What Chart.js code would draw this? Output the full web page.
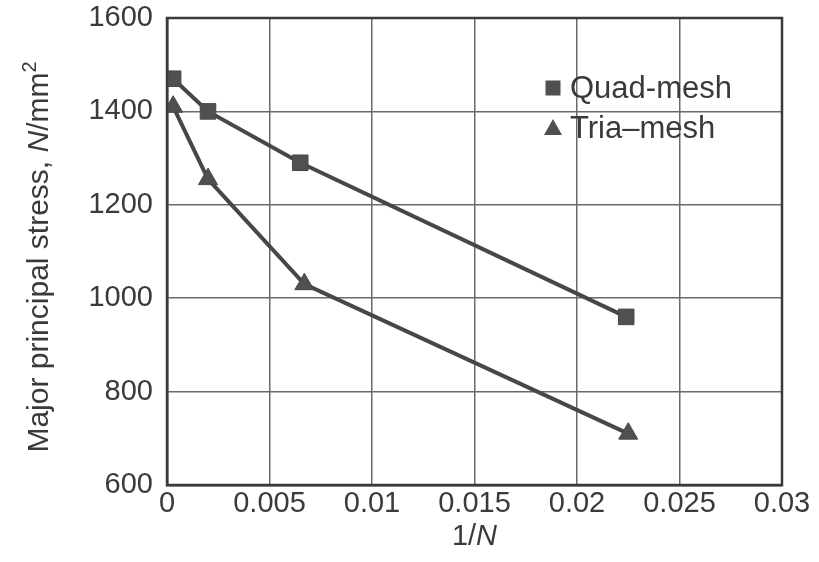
<!DOCTYPE html>
<html>
<head>
<meta charset="utf-8">
<script src="https://cdn.jsdelivr.net/npm/chart.js@4.4.1/dist/chart.umd.min.js"></script>
<style>
  html, body { margin: 0; padding: 0; background: #fff; }
  #wrap { width: 819px; height: 562px; }
</style>
</head>
<body>
<div id="wrap"><canvas id="stress-chart" width="819" height="562"></canvas></div>
<script>
// data
var quad_x = [0.0003, 0.002, 0.0065, 0.0224];
var quad_y = [1470, 1400, 1290, 960];
var tria_x = [0.0003, 0.002, 0.0067, 0.0225];
var tria_y = [1410, 1255, 1030, 710];
var x_ticks = [0, 0.005, 0.01, 0.015, 0.02, 0.025, 0.03];
var x_tick_labels = ['0', '0.005', '0.01', '0.015', '0.02', '0.025', '0.03'];
var y_tick_labels = ['600', '800', '1000', '1200', '1400', '1600'];
var series_names = ['Quad-mesh', 'Tria\u2013mesh'];

var INK = '#3a3a3a';
var FONT = '"Liberation Sans", Arial, Helvetica, sans-serif';

function toPoints(xs, ys) {
    var pts = [];
    for (var i = 0; i < xs.length; i++) {
        pts.push({ x: xs[i], y: ys[i] });
    }
    return pts;
}

// draw a run of text pieces with their own styles, centred on (0,0)
function drawRun(ctx, parts) {
    var total = 0;
    parts.forEach(function (p) {
        ctx.font = p.font;
        p.w = ctx.measureText(p.text).width;
        total += p.w;
    });
    var x = -total / 2;
    parts.forEach(function (p) {
        ctx.font = p.font;
        ctx.fillText(p.text, x, p.dy || 0);
        x += p.w;
    });
}

var framePlugin = {
    id: 'frame',
    afterDraw: function (chart) {
        var ctx = chart.ctx;
        var a = chart.chartArea;
        ctx.save();
        ctx.strokeStyle = INK;
        ctx.lineWidth = 2.5;
        ctx.strokeRect(a.left, a.top, a.right - a.left, a.bottom - a.top);

        // axis titles
        ctx.fillStyle = INK;
        ctx.textBaseline = 'middle';
        ctx.textAlign = 'left';
        ctx.save();
        ctx.translate(40, 257);
        ctx.rotate(-Math.PI / 2);
        drawRun(ctx, [
            { text: 'Major principal stress, ', font: '30px ' + FONT },
            { text: 'N', font: 'italic 30px ' + FONT },
            { text: '/mm', font: '30px ' + FONT },
            { text: '2', font: '20px ' + FONT, dy: -10 }
        ]);
        ctx.restore();

        ctx.save();
        ctx.translate((a.left + a.right) / 2, 537);
        drawRun(ctx, [
            { text: '1/', font: '29px ' + FONT },
            { text: 'N', font: 'italic 29px ' + FONT }
        ]);
        ctx.restore();

        // legend inside the plot
        var lx = 553, ly = [88, 128];
        ctx.fillStyle = '#505050';
        ctx.fillRect(lx - 7.5, ly[0] - 7.5, 15, 15);
        ctx.beginPath();
        ctx.moveTo(lx, ly[1] - 9);
        ctx.lineTo(lx + 9, ly[1] + 7);
        ctx.lineTo(lx - 9, ly[1] + 7);
        ctx.closePath();
        ctx.fill();
        ctx.fillStyle = INK;
        ctx.font = '31px ' + FONT;
        ctx.fillText(series_names[0], lx + 17, ly[0] + 1);
        ctx.fillText(series_names[1], lx + 17, ly[1] + 1);
        ctx.restore();
    }
};

var ctx = document.getElementById('stress-chart');
var StressChart = new Chart(ctx, {
    type: 'scatter',
    data: {
        datasets: [{
            label: series_names[0],
            data: toPoints(quad_x, quad_y),
            showLine: true,
            borderColor: '#474747',
            borderWidth: 4,
            pointStyle: 'rect',
            pointRadius: 11,
            pointBackgroundColor: '#505050',
            pointBorderColor: '#474747',
            pointBorderWidth: 1
        }, {
            label: series_names[1],
            data: toPoints(tria_x, tria_y),
            showLine: true,
            borderColor: '#474747',
            borderWidth: 4,
            pointStyle: 'triangle',
            pointRadius: 11,
            pointBackgroundColor: '#505050',
            pointBorderColor: '#474747',
            pointBorderWidth: 1
        }]
    },
    plugins: [framePlugin],
    options: {
        responsive: false,
        animation: false,
        layout: { padding: { top: 18, right: 37, left: 0, bottom: 0 } },
        plugins: {
            legend: false,
            tooltip: { enabled: false }
        },
        scales: {
            x: {
                type: 'linear',
                min: 0,
                max: 0.03,
                afterBuildTicks: function (scale) {
                    scale.ticks = x_ticks.map(function (v) { return { value: v }; });
                },
                afterFit: function (scale) {
                    scale.height = 77;
                    scale.paddingLeft = 0;
                    scale.paddingRight = 0;
                },
                grid: { color: '#6a6a6a', lineWidth: 1.5, drawTicks: false },
                border: { color: INK, width: 2.5 },
                ticks: {
                    color: INK,
                    padding: 2,
                    maxRotation: 0,
                    font: { family: FONT, size: 29 },
                    callback: function (value, index) { return x_tick_labels[index]; }
                }
            },
            y: {
                min: 600,
                max: 1600,
                ticks: {
                    stepSize: 200,
                    color: INK,
                    padding: 14,
                    font: { family: FONT, size: 29 },
                    callback: function (value, index) { return y_tick_labels[index]; }
                },
                afterFit: function (scale) {
                    scale.width = 167;
                    scale.paddingTop = 0;
                    scale.paddingBottom = 0;
                },
                grid: { color: '#6a6a6a', lineWidth: 1.5, drawTicks: false },
                border: { color: INK, width: 2.5 }
            }
        }
    }
});
</script>
</body>
</html>
